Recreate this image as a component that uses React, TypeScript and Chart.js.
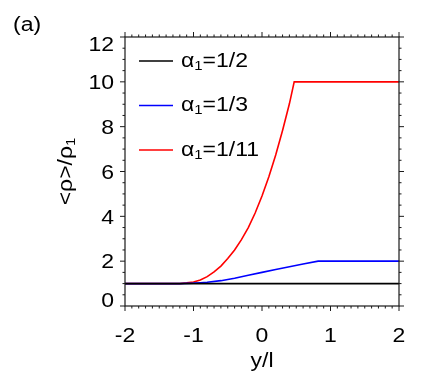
import React, { useEffect, useRef } from "react";
import { Chart, registerables } from "chart.js";

Chart.register(...registerables);

// ---- data ----
const seriesNames = ["1/2", "1/3", "1/11"];
const seriesColors = ["#000000", "#0000ff", "#ff0000"];

const xHalf = [-2, 2];
const yHalf = [1, 1];

const xThird = [-2, -1.4, -1.2, -1.1, -1.0, -0.9, -0.8, -0.6, -0.4, -0.2, 0, 0.2, 0.4, 0.6, 0.82, 2];
const yThird = [1, 1, 1.0, 1.01, 1.02, 1.04, 1.06, 1.13, 1.24, 1.37, 1.5, 1.63, 1.75, 1.87, 2, 2];

const xEleventh = [-2, -1.3, -1.2, -1.1, -1.0, -0.9, -0.8, -0.7, -0.6, -0.5, -0.4, -0.3, -0.2, -0.1, 0, 0.1, 0.2, 0.3, 0.4, 0.47, 2];
const yEleventh = [1, 1, 1.0, 1.03, 1.07, 1.16, 1.31, 1.52, 1.78, 2.12, 2.5, 2.96, 3.5, 4.15, 4.91, 5.77, 6.74, 7.83, 9.02, 10, 10];

const xTicks = [-2, -1, 0, 1, 2];
const yTicks = [0, 2, 4, 6, 8, 10, 12];
const xMinorStep = 0.1;
const yMinorStep = 0.5;

const FONT = "'Liberation Sans', Arial, sans-serif";
const SX = 1.15;

type Part = { t: string; size: number; dy?: number };

function partsWidth(ctx: CanvasRenderingContext2D, parts: Part[]) {
  let w = 0;
  for (const p of parts) {
    ctx.font = `${p.size}px ${FONT}`;
    w += ctx.measureText(p.t).width * SX;
  }
  return w;
}

function drawRich(
  ctx: CanvasRenderingContext2D,
  x: number,
  y: number,
  parts: Part[],
  align: "left" | "center" | "right",
  rotate = 0
) {
  ctx.save();
  ctx.translate(x, y);
  if (rotate) ctx.rotate(rotate);
  const w = partsWidth(ctx, parts);
  let cx = align === "left" ? 0 : align === "center" ? -w / 2 : -w;
  ctx.textAlign = "left";
  ctx.textBaseline = "alphabetic";
  for (const p of parts) {
    ctx.font = `${p.size}px ${FONT}`;
    ctx.save();
    ctx.translate(cx, p.dy || 0);
    ctx.scale(SX, 1);
    ctx.fillText(p.t, 0, 0);
    ctx.restore();
    cx += ctx.measureText(p.t).width * SX;
  }
  ctx.restore();
}

const framePlugin = {
  id: "frame",
  afterDraw(chart: any) {
    const { ctx, chartArea: a, scales } = chart;
    const xs = scales.x;
    const ys = scales.y;
    ctx.save();
    ctx.strokeStyle = "#1a1a1a";
    ctx.lineWidth = 1.2;
    ctx.strokeRect(a.left, a.top, a.right - a.left, a.bottom - a.top);

    const seg = (x1: number, y1: number, x2: number, y2: number) => {
      ctx.beginPath();
      ctx.moveTo(x1, y1);
      ctx.lineTo(x2, y2);
      ctx.stroke();
    };
    ctx.lineWidth = 1;
    // x ticks (outward on bottom and top)
    const xMin = xTicks[0], xMax = xTicks[xTicks.length - 1];
    const nX = Math.round((xMax - xMin) / xMinorStep);
    for (let i = 0; i <= nX; i++) {
      const v = xMin + i * xMinorStep;
      const major = xTicks.some((t) => Math.abs(t - v) < 1e-6);
      const len = major ? 5 : 2.5;
      const px = xs.getPixelForValue(v);
      seg(px, a.bottom, px, a.bottom + len);
      seg(px, a.top, px, a.top - len);
    }
    const yMin = yTicks[0], yMax = yTicks[yTicks.length - 1];
    const nY = Math.round((yMax - yMin) / yMinorStep);
    for (let i = 0; i <= nY; i++) {
      const v = yMin + i * yMinorStep;
      const major = yTicks.some((t) => Math.abs(t - v) < 1e-6);
      const len = major ? 5 : 2.5;
      const py = ys.getPixelForValue(v);
      seg(a.left, py, a.left - len, py);
      seg(a.right, py, a.right + len, py);
    }

    ctx.fillStyle = "#000";
    // x tick labels
    for (const t of xTicks) {
      drawRich(ctx, xs.getPixelForValue(t), 341.5, [{ t: String(t), size: 20 }], "center");
    }
    // y tick labels (end labels kept inside the frame)
    for (const t of yTicks) {
      const py = ys.getPixelForValue(t);
      let base = py + 7.2;
      if (t === yMax) base = py + 14;
      if (t === yMin) base = py + 0.5;
      drawRich(ctx, 114, base, [{ t: String(t), size: 20 }], "right");
    }
    // axis titles
    drawRich(ctx, (a.left + a.right) / 2, 367, [{ t: "y/l", size: 20 }], "center");
    drawRich(
      ctx,
      72,
      (a.top + a.bottom) / 2,
      [
        { t: "<ρ>/ρ", size: 20 },
        { t: "1", size: 13, dy: 3 },
      ],
      "center",
      -Math.PI / 2
    );
    // panel label
    drawRich(ctx, 13, 30.5, [{ t: "(a)", size: 20 }], "left");

    // legend
    const rowY = [61, 105.5, 150];
    for (let i = 0; i < seriesNames.length; i++) {
      ctx.strokeStyle = seriesColors[i];
      ctx.lineWidth = 1.5;
      seg(139, rowY[i], 173, rowY[i]);
      ctx.fillStyle = "#000";
      drawRich(
        ctx,
        181,
        rowY[i] + 5.8,
        [
          { t: "α", size: 20 },
          { t: "1", size: 13, dy: 2.8 },
          { t: "=" + seriesNames[i], size: 20 },
        ],
        "left"
      );
    }
    ctx.restore();
  },
};

export default function App() {
  const ref = useRef<HTMLCanvasElement | null>(null);
  useEffect(() => {
    if (!ref.current) return;
    const mk = (xs: number[], ys: number[]) => xs.map((x, i) => ({ x, y: ys[i] }));
    const chart = new Chart(ref.current, {
      type: "line",
      data: {
        datasets: [
          { label: "α1=" + seriesNames[0], data: mk(xHalf, yHalf), borderColor: seriesColors[0], borderWidth: 1.8 },
          { label: "α1=" + seriesNames[1], data: mk(xThird, yThird), borderColor: seriesColors[1], borderWidth: 1.6 },
          { label: "α1=" + seriesNames[2], data: mk(xEleventh, yEleventh), borderColor: seriesColors[2], borderWidth: 1.6 },
        ],
      },
      options: {
        animation: false,
        responsive: false,
        devicePixelRatio: 1,
        layout: { padding: { left: 125, right: 37, top: 37, bottom: 80 } },
        elements: { point: { radius: 0 }, line: { tension: 0 } },
        plugins: { legend: { display: false }, tooltip: { enabled: false } },
        scales: {
          x: { type: "linear", min: -2, max: 2, display: false },
          y: { type: "linear", min: 0, max: 12, display: false },
        },
      },
      plugins: [framePlugin],
    });
    return () => chart.destroy();
  }, []);
  return (
    <div style={{ position: "fixed", left: 0, top: 0, width: 436, height: 386, background: "#fff" }}>
      <canvas ref={ref} width={436} height={386} style={{ width: 436, height: 386 }} />
    </div>
  );
}
